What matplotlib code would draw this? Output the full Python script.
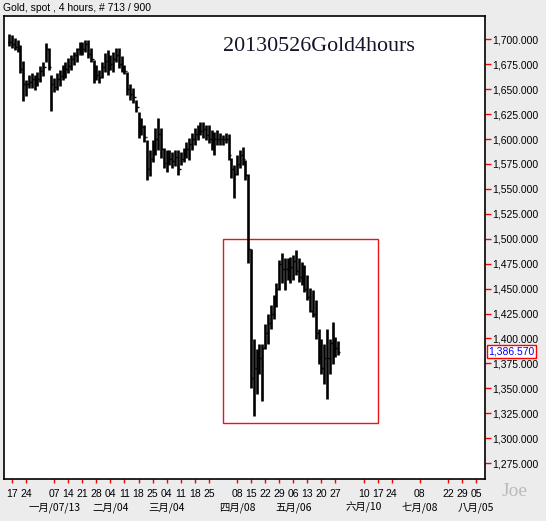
import numpy as np
import pandas as pd
import matplotlib

matplotlib.use("Agg")
import matplotlib.pyplot as plt
from matplotlib.patches import Rectangle
from matplotlib.ticker import FuncFormatter

plt.rcParams["font.family"] = ["Liberation Sans", "Noto Sans CJK TC", "DejaVu Sans"]

# daily ranges (Dec 14 2012 .. May 28 2013)
highs = [
    1705, 1704, 1701, 1699, 1694, 1678, 1659, 1664, 1666, 1664,
    1667, 1673, 1677, 1696, 1691, 1664, 1661, 1666, 1669, 1674,
    1677, 1681, 1684, 1687, 1691, 1697, 1697, 1699, 1699, 1691,
    1679, 1674, 1669, 1677, 1686, 1689, 1684, 1687, 1691, 1691,
    1683, 1674, 1667, 1655, 1651, 1639, 1627, 1621, 1614, 1599,
    1589, 1599, 1611, 1621, 1611, 1591, 1589, 1589, 1587, 1589,
    1589, 1587, 1591, 1597, 1601, 1606, 1611, 1614, 1617, 1617,
    1614, 1614, 1609, 1607, 1609, 1606, 1604, 1606, 1605, 1581,
    1574, 1584, 1589, 1592, 1579, 1565, 1490, 1399, 1389, 1394,
    1394, 1414, 1424, 1434, 1444, 1456, 1479, 1486, 1481, 1481,
    1482, 1484, 1489, 1481, 1477, 1474, 1464, 1451, 1449, 1439,
    1409, 1399, 1394, 1409, 1399, 1416, 1401, 1397,
]
lows = [
    1693, 1691, 1689, 1687, 1666, 1638, 1643, 1651, 1651, 1649,
    1653, 1657, 1663, 1677, 1669, 1628, 1647, 1649, 1653, 1659,
    1661, 1666, 1669, 1674, 1677, 1684, 1684, 1687, 1681, 1677,
    1656, 1659, 1656, 1661, 1667, 1664, 1669, 1667, 1677, 1671,
    1667, 1665, 1644, 1639, 1636, 1627, 1601, 1604, 1597, 1559,
    1563, 1577, 1584, 1589, 1581, 1571, 1567, 1574, 1571, 1573,
    1564, 1574, 1577, 1581, 1579, 1589, 1594, 1599, 1604, 1601,
    1599, 1596, 1589, 1584, 1594, 1594, 1594, 1596, 1579, 1561,
    1541, 1564, 1571, 1574, 1559, 1476, 1350, 1322, 1344, 1364,
    1337, 1389, 1394, 1409, 1419, 1432, 1449, 1456, 1449, 1459,
    1456, 1459, 1464, 1457, 1454, 1447, 1439, 1427, 1421, 1399,
    1374, 1364, 1354, 1339, 1364, 1374, 1381, 1383,
]
closes = [
    1697, 1695, 1692, 1690, 1670, 1655, 1655, 1657, 1660, 1655,
    1660, 1668, 1672, 1690, 1672, 1655, 1652, 1660, 1663, 1668,
    1670, 1673, 1680, 1684, 1690, 1692, 1690, 1695, 1685, 1680,
    1662, 1664, 1662, 1672, 1678, 1670, 1675, 1680, 1684, 1675,
    1670, 1668, 1650, 1645, 1642, 1632, 1610, 1612, 1602, 1570,
    1580, 1592, 1600, 1605, 1590, 1576, 1578, 1580, 1578, 1582,
    1570, 1580, 1585, 1590, 1595, 1600, 1605, 1610, 1608, 1610,
    1604, 1600, 1598, 1600, 1600, 1600, 1600, 1600, 1584, 1570,
    1565, 1575, 1584, 1580, 1564, 1490, 1360, 1370, 1380, 1380,
    1390, 1405, 1415, 1425, 1440, 1450, 1475, 1470, 1470, 1470,
    1472, 1478, 1468, 1462, 1458, 1450, 1442, 1428, 1425, 1405,
    1380, 1370, 1380, 1380, 1395, 1390, 1390, 1386.57,
]
last_price = 1386.57

tick_dates = [
    "2012-12-17", "2012-12-24", "2013-01-07", "2013-01-14", "2013-01-21",
    "2013-01-28", "2013-02-04", "2013-02-11", "2013-02-18", "2013-02-25",
    "2013-03-04", "2013-03-11", "2013-03-18", "2013-03-25", "2013-04-08",
    "2013-04-15", "2013-04-22", "2013-04-29", "2013-05-06", "2013-05-13",
    "2013-05-20", "2013-05-27", "2013-06-10", "2013-06-17", "2013-06-24",
    "2013-07-08", "2013-07-22", "2013-07-29", "2013-08-05",
]
month_dates = ["2013-01-07", "2013-02-04", "2013-03-04", "2013-04-08",
               "2013-05-06", "2013-06-10", "2013-07-08", "2013-08-05"]
month_labels = ["一月/07/13", "二月/04", "三月/04", "四月/08",
                "五月/06", "六月/10", "七月/08", "八月/05"]

# box drawn on the chart: Apr 1 .. Jun 17, 1315 .. 1500
box_dates = ["2013-04-01", "2013-06-17"]
box_prices = [1315, 1500]

origin = pd.Timestamp("2012-12-17")
days = pd.bdate_range("2012-12-14", "2013-05-28")
day_x = np.busday_count(origin.date(), [d.date() for d in days]) / 5.0


def week_pos(s):
    return (pd.Timestamp(s) - origin).days / 7.0


opens = [closes[0]] + closes[:-1]

fig = plt.figure(figsize=(5.46, 5.21), dpi=100, facecolor="#ECECEC")
ax = fig.add_axes([4 / 546, 42 / 521, 481 / 546, 463 / 521])
ax.set_facecolor("white")

ax.vlines(day_x, lows, highs, color="black", lw=1.9)
ax.hlines(closes, day_x, day_x + 0.1, color="black", lw=1.0)
ax.hlines(opens, day_x - 0.1, day_x, color="black", lw=1.0)

bx0, bx1 = week_pos(box_dates[0]), week_pos(box_dates[1])
ax.add_patch(Rectangle((bx0, box_prices[0]), bx1 - bx0, box_prices[1] - box_prices[0],
                       fill=False, edgecolor="#E8141B", lw=1.0))

ax.set_xlim(-0.57, 33.64)
ax.set_ylim(1259, 1723.4)

ax.yaxis.tick_right()
ax.set_yticks(np.arange(1275, 1701, 25))
ax.yaxis.set_major_formatter(FuncFormatter(lambda v, p: f"{v:,.3f}"))
ax.tick_params(axis="y", colors="red", labelcolor="black", length=4, width=1,
               labelsize=7.5, pad=1)

ax.set_xticks([week_pos(d) for d in tick_dates])
ax.set_xticklabels([pd.Timestamp(d).strftime("%d") for d in tick_dates])
ax.tick_params(axis="x", colors="red", labelcolor="black", length=3, width=1,
               labelsize=7.5, pad=4)

for sp in ax.spines.values():
    sp.set_linewidth(1.2)

for d, lab in zip(month_dates, month_labels):
    ax.text(week_pos(d), -0.062, lab, transform=ax.get_xaxis_transform(),
            ha="center", va="center", fontsize=7.5,
            family=["Noto Sans CJK TC", "DejaVu Sans"])

ax.text(0.455, 0.935, "20130526Gold4hours", transform=ax.transAxes,
        family="Liberation Serif", fontsize=15.8, color="#15152a",
        ha="left", va="center")

fig.text(3 / 546, 1 - 8 / 521, "Gold, spot , 4 hours, # 713 / 900",
         fontsize=7.5, ha="left", va="center")

ax.text(1.007, last_price, f"{last_price:,.3f}", transform=ax.get_yaxis_transform(),
        color="blue", fontsize=7.5, ha="left", va="center",
        bbox=dict(boxstyle="square,pad=0.15", facecolor="white", edgecolor="red", lw=1))

fig.text(515 / 546, 1 - 492 / 521, "Joe", family="Liberation Serif",
         fontsize=14, color="#BBBBBB", ha="center", va="center")

fig.savefig("out.png", dpi=100, facecolor=fig.get_facecolor())
